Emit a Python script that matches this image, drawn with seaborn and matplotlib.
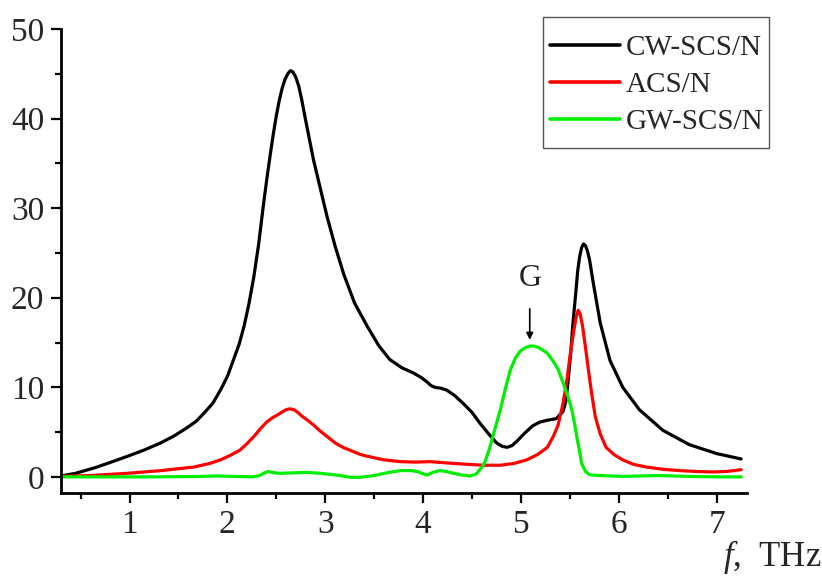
import matplotlib
matplotlib.use("Agg")
import matplotlib.pyplot as plt
import seaborn as sns
import pandas as pd
from matplotlib.ticker import MultipleLocator
from matplotlib.patches import Rectangle

# ---- data ----
cw_x = [0.30,0.45,0.64,0.80,0.98,1.15,1.32,1.46,1.59,1.68,1.76,1.85,1.93,2.00,2.06,2.12,2.17,2.22,2.27,2.32,
        2.37,2.41,2.44,2.47,2.50,2.53,2.56,2.59,2.62,2.645,2.67,2.70,2.73,2.76,2.80,2.84,2.88,2.95,3.02,3.10,
        3.19,3.30,3.43,3.55,3.66,3.78,3.90,3.98,4.04,4.08,4.12,4.18,4.24,4.32,4.41,4.50,4.58,4.67,4.75,4.81,
        4.86,4.91,4.96,5.04,5.12,5.19,5.26,5.36,5.43,5.46,5.48,5.51,5.53,5.56,5.58,5.60,5.62,5.64,5.66,5.68,
        5.70,5.74,5.81,5.91,6.04,6.21,6.45,6.72,7.00,7.25]
cw_y = [0.1,0.4,1.0,1.6,2.3,3.0,3.8,4.6,5.5,6.2,7.1,8.2,9.7,11.2,13.0,14.8,16.8,19.3,22.3,26.0,
        30.5,33.8,36.1,38.3,40.3,42.0,43.4,44.4,45.05,45.35,45.2,44.6,43.6,42.1,39.8,37.6,35.4,32.2,29.0,25.8,
        22.6,19.4,16.8,14.6,13.1,12.2,11.6,11.1,10.6,10.2,10.0,9.9,9.7,9.1,8.2,7.2,6.0,4.8,3.8,3.4,
        3.3,3.5,4.0,4.9,5.7,6.1,6.3,6.5,7.3,8.5,10.5,14.0,17.0,20.5,23.0,24.6,25.6,26.0,25.8,25.2,
        24.3,21.6,17.2,13.0,10.0,7.5,5.2,3.6,2.6,2.0]

acs_x = [0.30,0.60,0.98,1.32,1.66,1.82,1.93,2.03,2.13,2.20,2.27,2.34,2.40,2.46,2.51,2.56,2.60,2.64,2.68,2.72,
         2.76,2.81,2.88,2.95,3.02,3.10,3.18,3.27,3.36,3.43,3.60,3.77,3.92,4.07,4.25,4.45,4.62,4.79,4.93,5.06,
         5.17,5.27,5.33,5.38,5.43,5.47,5.50,5.54,5.565,5.585,5.605,5.63,5.66,5.69,5.72,5.76,5.81,5.87,5.95,6.04,
         6.15,6.28,6.45,6.62,6.80,6.96,7.10,7.25]
acs_y = [0.05,0.15,0.4,0.7,1.1,1.5,1.9,2.4,3.0,3.7,4.5,5.4,6.1,6.6,6.9,7.25,7.5,7.6,7.5,7.2,
         6.8,6.4,5.8,5.1,4.5,3.8,3.3,2.9,2.5,2.3,1.9,1.7,1.65,1.7,1.55,1.4,1.3,1.3,1.5,1.9,
         2.5,3.3,4.5,5.8,8.2,10.8,13.4,16.3,17.9,18.6,18.2,16.8,14.4,11.9,9.5,6.7,4.8,3.3,2.5,1.9,
         1.4,1.1,0.85,0.7,0.6,0.55,0.6,0.8]

gw_x = [0.30,0.80,1.30,1.70,1.90,2.10,2.26,2.33,2.38,2.42,2.48,2.54,2.68,2.81,2.95,3.12,3.26,3.36,3.50,3.65,
        3.77,3.88,3.94,4.00,4.04,4.10,4.17,4.24,4.31,4.40,4.48,4.54,4.58,4.63,4.68,4.73,4.79,4.84,4.89,4.94,
        4.99,5.04,5.09,5.13,5.18,5.23,5.27,5.33,5.38,5.43,5.48,5.52,5.55,5.57,5.60,5.62,5.66,5.70,5.80,6.04,
        6.39,6.72,7.00,7.25]
gw_y = [0.0,0.0,0.0,0.05,0.1,0.05,0.0,0.15,0.45,0.6,0.45,0.4,0.45,0.5,0.4,0.2,-0.05,-0.05,0.15,0.5,
        0.7,0.7,0.6,0.35,0.2,0.5,0.7,0.6,0.4,0.2,0.1,0.3,0.8,1.6,3.2,5.2,7.5,9.8,11.9,13.2,
        14.0,14.4,14.6,14.6,14.45,14.1,13.8,12.9,12.0,10.5,9.0,7.5,5.8,4.5,2.8,1.5,0.6,0.25,0.15,0.05,
        0.15,0.05,0.0,0.0]

labels = ["CW-SCS/N", "ACS/N", "GW-SCS/N"]
colors = ["black", "#ff0000", "#00ee00"]
x_ticks = [1, 2, 3, 4, 5, 6, 7]
y_ticks = [0, 10, 20, 30, 40, 50]

sns.set_style("ticks")
plt.rcParams["font.family"] = ["Liberation Serif", "DejaVu Serif"]
plt.rcParams["mathtext.fontset"] = "custom"
plt.rcParams["mathtext.rm"] = "Liberation Serif"
plt.rcParams["mathtext.it"] = "Liberation Serif:italic"

fig = plt.figure(figsize=(8.22, 5.77), dpi=100)
ax = fig.add_axes([61/822, 1-493/577, (747-61)/822, (493-29)/577])

series = [(cw_x, cw_y), (acs_x, acs_y), (gw_x, gw_y)]
for (xs, ys), lab, col in zip(series, labels, colors):
    df = pd.DataFrame({"f": xs, "v": ys})
    sns.lineplot(data=df, x="f", y="v", ax=ax, color=col, lw=2.3, label=lab, sort=True)

ax.set_xlim(0.3, 7.31)
ax.set_ylim(-1.8, 50)
ax.set_xticks(x_ticks)
ax.set_yticks(y_ticks)
ax.xaxis.set_minor_locator(MultipleLocator(0.5))
ax.yaxis.set_minor_locator(MultipleLocator(5))
ax.tick_params(which="major", direction="out", length=7, width=1.6, labelsize=24, pad=5, color="black")
ax.tick_params(which="minor", direction="out", length=4, width=1.6, color="black")
ax.set_xlabel("")
ax.set_ylabel("")
for s in ["top", "right"]:
    ax.spines[s].set_visible(False)
for s in ["left", "bottom"]:
    ax.spines[s].set_linewidth(2.0)
    ax.spines[s].set_color("black")

# legend (frame drawn as a figure rectangle to match the reference box)
leg = ax.legend(loc="center left", bbox_to_anchor=(550/822, 1-85/577), bbox_transform=fig.transFigure,
                fontsize=21, frameon=False, borderaxespad=0, borderpad=0,
                handlelength=2.4, handletextpad=0.2, labelspacing=0.36)
for line in leg.get_lines():
    line.set_linewidth(2.6)
fig.patches.append(Rectangle((543/822, 1-148/577), (769-543)/822, (148-17)/577,
                             transform=fig.transFigure, fill=False, edgecolor="#555555", lw=1.0))

ax.text(5.09, 22.1, "G", ha="center", va="center", fontsize=23)
ax.annotate("", xy=(5.09, 15.3), xytext=(5.09, 18.75),
            arrowprops=dict(arrowstyle="-|>", lw=1.2, color="black", mutation_scale=10,
                            shrinkA=0, shrinkB=0))

fig.text(821/822, 1-566/577, r"$\mathit{f}$,  THz", ha="right", va="baseline", fontsize=25)

fig.savefig("out.png", dpi=100)
